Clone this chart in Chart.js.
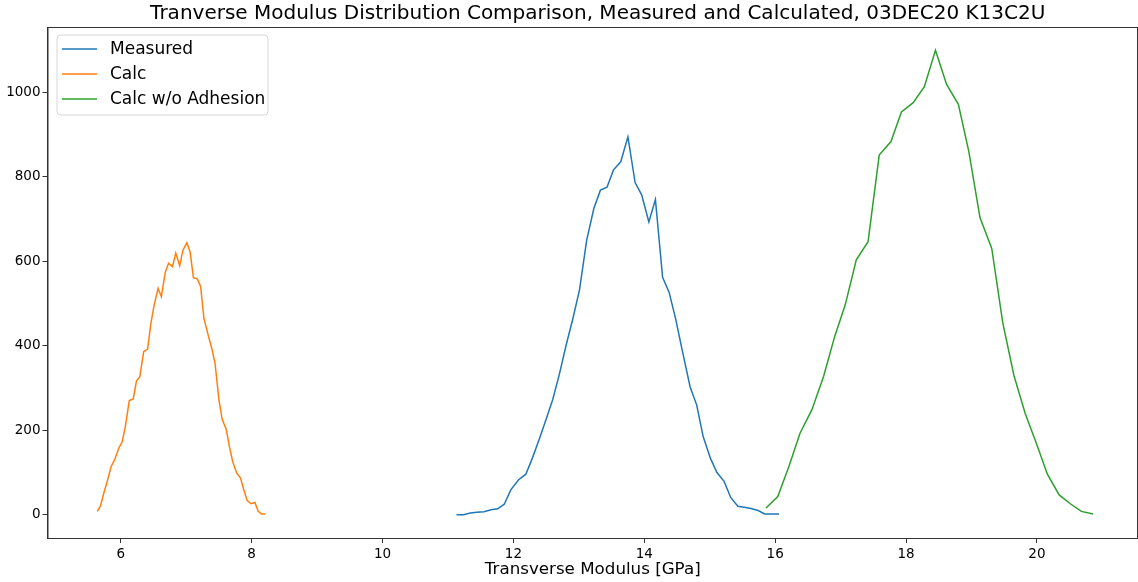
<!DOCTYPE html>
<html>
<head>
<meta charset="utf-8">
<script src="https://cdn.jsdelivr.net/npm/chart.js@4/dist/chart.umd.min.js"></script>
<style>
  html, body { margin: 0; padding: 0; background: #fff; }
  #chart { display: block; }
</style>
</head>
<body>
<canvas id="chart" width="1138" height="582"></canvas>
<script>
// Datos
const measX = [11.13, 11.24, 11.34, 11.44, 11.55, 11.66, 11.76, 11.86, 11.96, 12.08, 12.19, 12.29, 12.40, 12.50, 12.60, 12.70, 12.81, 12.91, 13.01, 13.12, 13.23, 13.33, 13.43, 13.53, 13.64, 13.75, 13.86, 13.96, 14.07, 14.17, 14.28, 14.38, 14.48, 14.59, 14.70, 14.80, 14.90, 15.01, 15.11, 15.22, 15.32, 15.43, 15.53, 15.63, 15.74, 15.84, 15.95, 16.06];
const measY = [0, 0, 4, 6, 7, 12, 14, 25, 59, 83, 96, 134, 181, 226, 272, 331, 404, 465, 532, 650, 725, 768, 775, 816, 835, 894, 786, 757, 693, 746, 562, 526, 463, 382, 303, 260, 185, 134, 100, 79, 41, 20, 18, 15, 10, 2, 2, 2];

const calcX = [5.64, 5.69, 5.74, 5.80, 5.85, 5.91, 5.97, 6.02, 6.07, 6.13, 6.19, 6.24, 6.29, 6.35, 6.41, 6.46, 6.51, 6.57, 6.62, 6.68, 6.73, 6.79, 6.84, 6.90, 6.95, 7.01, 7.06, 7.11, 7.17, 7.22, 7.27, 7.34, 7.39, 7.44, 7.50, 7.55, 7.61, 7.66, 7.71, 7.77, 7.83, 7.88, 7.93, 7.99, 8.05, 8.10, 8.15, 8.21];
const calcY = [8, 21, 51, 83, 113, 132, 158, 172, 209, 270, 274, 317, 326, 386, 392, 453, 496, 536, 516, 574, 595, 587, 619, 589, 626, 644, 621, 561, 558, 540, 465, 422, 394, 359, 272, 225, 203, 161, 126, 99, 87, 59, 34, 26, 29, 8, 2, 2];

const adhX = [15.86, 16.04, 16.21, 16.38, 16.56, 16.74, 16.91, 17.07, 17.24, 17.42, 17.59, 17.77, 17.93, 18.11, 18.28, 18.45, 18.62, 18.80, 18.96, 19.13, 19.31, 19.48, 19.65, 19.82, 19.99, 20.16, 20.34, 20.51, 20.68, 20.86];
const adhY = [16, 43, 114, 193, 248, 327, 422, 496, 603, 646, 851, 883, 953, 975, 1013, 1099, 1018, 971, 859, 703, 630, 453, 329, 240, 170, 96, 47, 26, 8, 2];

const xTicks = [6, 8, 10, 12, 14, 16, 18, 20];
const yTicks = [0, 200, 400, 600, 800, 1000];

const TITULO = 'Tranverse Modulus Distribution Comparison, Measured and Calculated, 03DEC20 K13C2U';
const FONT = "'DejaVu Sans', sans-serif";
const EJE = '#333';

function puntos(xs, ys) {
  return xs.map((x, i) => ({ x, y: ys[i] }));
}

// Título centrado sobre los ejes, marco completo y leyenda interior (estilo matplotlib)
const marcoYLeyenda = {
  id: 'marcoYLeyenda',
  afterDraw(chart) {
    const { ctx, chartArea: a } = chart;
    ctx.save();
    ctx.strokeStyle = EJE;
    ctx.lineWidth = 1;
    ctx.strokeRect(a.left + 0.5, a.top + 0.5, a.right - a.left - 1, a.bottom - a.top);

    ctx.fillStyle = '#000';
    ctx.font = '20px ' + FONT;
    ctx.textAlign = 'center';
    ctx.textBaseline = 'middle';
    ctx.fillText(TITULO, (a.left + a.right) / 2 + 5, 14);

    // leyenda
    const bx = 57, by = 35, bw = 211, bh = 80, r = 4;
    ctx.beginPath();
    ctx.moveTo(bx + r, by);
    ctx.arcTo(bx + bw, by, bx + bw, by + bh, r);
    ctx.arcTo(bx + bw, by + bh, bx, by + bh, r);
    ctx.arcTo(bx, by + bh, bx, by, r);
    ctx.arcTo(bx, by, bx + bw, by, r);
    ctx.closePath();
    ctx.fillStyle = 'rgba(255,255,255,0.8)';
    ctx.fill();
    ctx.strokeStyle = '#d6d6d6';
    ctx.stroke();

    ctx.font = '17px ' + FONT;
    ctx.textAlign = 'left';
    chart.data.datasets.forEach((ds, i) => {
      const y = by + 14 + i * 25;
      ctx.strokeStyle = ds.borderColor;
      ctx.lineWidth = 1.5;
      ctx.beginPath();
      ctx.moveTo(62, y);
      ctx.lineTo(97, y);
      ctx.stroke();
      ctx.fillStyle = '#000';
      ctx.fillText(ds.label, 110, y + 1);
    });
    ctx.restore();
  }
};

new Chart(document.getElementById('chart'), {
  type: 'scatter',
  data: {
    datasets: [
      { label: 'Measured', data: puntos(measX, measY), borderColor: '#1f77b4' },
      { label: 'Calc', data: puntos(calcX, calcY), borderColor: '#ff7f0e' },
      { label: 'Calc w/o Adhesion', data: puntos(adhX, adhY), borderColor: '#2ca02c' },
    ].map(d => ({ ...d, showLine: true, pointRadius: 0, borderWidth: 1.5, tension: 0, fill: false })),
  },
  options: {
    responsive: false, animation: false, devicePixelRatio: 1,
    layout: { padding: { left: 0, right: 0, top: 27, bottom: 0 } },
    scales: {
      x: {
        type: 'linear', min: 4.88, max: 21.545,
        afterBuildTicks: s => { s.ticks = xTicks.map(v => ({ value: v })); },
        afterFit: s => { s.height = 44; },
        grid: { drawOnChartArea: false, drawTicks: true, tickLength: 5, color: EJE },
        border: { display: true, color: EJE },
        ticks: { color: '#000', font: { family: FONT, size: 13.5 }, padding: 3, maxRotation: 0, callback: v => String(v) },
        title: { display: true, text: 'Transverse Modulus [GPa]', color: '#000', font: { family: FONT, size: 16.7 }, padding: { top: 0, bottom: 2 } },
      },
      y: {
        type: 'linear', min: -55, max: 1154,
        afterBuildTicks: s => { s.ticks = yTicks.map(v => ({ value: v })); },
        afterFit: s => { s.width = 47.5; },
        grid: { drawOnChartArea: false, drawTicks: true, tickLength: 5, color: EJE },
        border: { display: true, color: EJE },
        ticks: { color: '#000', font: { family: FONT, size: 13.5 }, padding: 2, callback: v => String(v) },
      },
    },
    plugins: {
      legend: { display: false },
      tooltip: { enabled: false },
      title: { display: false },
    },
  },
  plugins: [marcoYLeyenda],
});
</script>
</body>
</html>
